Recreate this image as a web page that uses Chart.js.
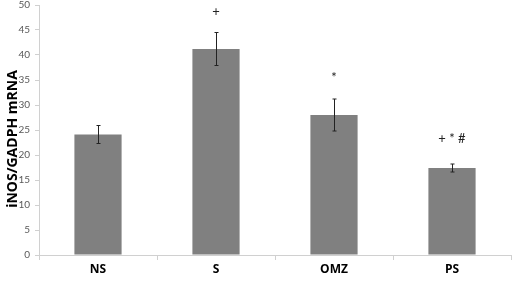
<!DOCTYPE html>
<html><head><meta charset="utf-8">
<script src="https://cdn.jsdelivr.net/npm/chart.js@4"></script>
<style>html,body{margin:0;padding:0;background:#fff;}#wrap{width:512px;height:281px;}</style>
</head><body><div id="wrap"><canvas id="c" width="512" height="281"></canvas></div>
<script>
const categories = ["NS", "S", "OMZ", "PS"];
const values = [24.1, 41.2, 28.0, 17.4];
const errors = [1.8, 3.3, 3.2, 0.8];
const marks = ["", "+", "*", "+ * #"];
const markValues = [0, 48.6, 35.4, 23.2];
const yTicks = [0, 5, 10, 15, 20, 25, 30, 35, 40, 45, 50];
const yTitle = "iNOS/GADPH mRNA";

const errPlugin = {
  id: 'err',
  afterDatasetsDraw(chart) {
    const ctx = chart.ctx, y = chart.scales.y;
    const meta = chart.getDatasetMeta(0);
    ctx.save();
    ctx.strokeStyle = '#222';
    ctx.lineWidth = 1;
    meta.data.forEach((bar, i) => {
      const cx = Math.round(bar.x) + 0.5;
      const t = y.getPixelForValue(values[i] + errors[i]);
      const b = y.getPixelForValue(values[i] - errors[i]);
      ctx.beginPath();
      ctx.moveTo(cx, t); ctx.lineTo(cx, b);
      ctx.moveTo(cx - 2, t); ctx.lineTo(cx + 2, t);
      ctx.moveTo(cx - 2, b); ctx.lineTo(cx + 2, b);
      ctx.stroke();
      if (marks[i]) {
        ctx.fillStyle = '#222';
        ctx.font = '13px Lato, "Open Sans", sans-serif';
        ctx.textAlign = 'center';
        ctx.textBaseline = 'middle';
        ctx.fillText(marks[i], bar.x, y.getPixelForValue(markValues[i]));
      }
    });
    ctx.save();
    ctx.translate(13, (chart.chartArea.top + chart.chartArea.bottom) / 2 + 9);
    ctx.rotate(-Math.PI / 2);
    ctx.fillStyle = '#000';
    ctx.font = 'bold 14px "Open Sans", Lato, sans-serif';
    ctx.textAlign = 'center';
    ctx.textBaseline = 'middle';
    ctx.fillText(yTitle, 0, 0);
    ctx.restore();
    ctx.restore();
  }
};

new Chart(document.getElementById('c'), {
  type: 'bar',
  data: {
    labels: categories,
    datasets: [{ data: values, backgroundColor: '#808080', borderWidth: 0,
      barPercentage: 0.4, categoryPercentage: 1.0 }]
  },
  options: {
    responsive: false, animation: false,
    devicePixelRatio: 1,
    layout: { padding: { top: 5, right: 1, left: 0, bottom: 0 } },
    plugins: { legend: { display: false }, tooltip: { enabled: false } },
    scales: {
      x: {
        afterFit(s) { s.height = 26; s.paddingLeft = 0; s.paddingRight = 0; },
        grid: { display: true, drawOnChartArea: false, offset: true, tickLength: 5, color: '#d0d0d0' },
        border: { color: '#d0d0d0' },
        ticks: { color: '#000', font: { family: '"Open Sans", Lato, sans-serif', size: 12, weight: 'bold' }, padding: 2 }
      },
      y: {
        min: 0, max: 50,
        afterBuildTicks(s) { s.ticks = yTicks.map(v => ({ value: v })); },
        afterFit(s) { s.width = 39; s.paddingTop = 0; s.paddingBottom = 0; },
        grid: { display: true, drawOnChartArea: false, tickLength: 4, color: '#d0d0d0' },
        border: { color: '#d0d0d0' },
        ticks: { color: '#595959', font: { family: 'Lato, "Open Sans", sans-serif', size: 10 }, padding: 5 }
      }
    }
  },
  plugins: [errPlugin]
});
</script></body></html>
